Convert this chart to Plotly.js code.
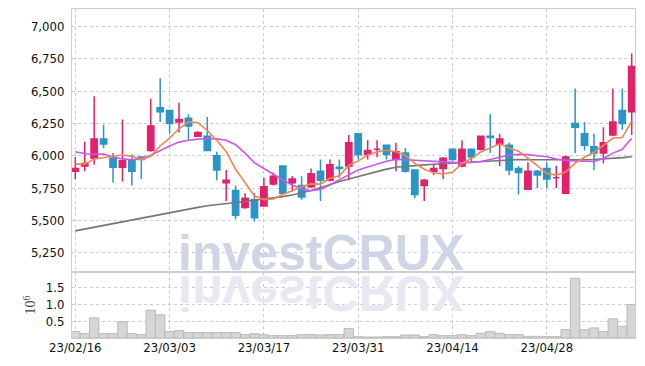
<!DOCTYPE html>
<html>
<head>
<meta charset="utf-8">
<script src="https://cdn.plot.ly/plotly-3.0.1.min.js"></script>
<style>
html,body{margin:0;padding:0;background:#fff;}
#chart{width:645px;height:366px;}
</style>
</head>
<body>
<div id="chart"></div>
<script>
// Trading days (Korean market), 2023-02-16 .. 2023-05-15
const dates = ["2023-02-16","2023-02-17","2023-02-20","2023-02-21","2023-02-22","2023-02-23","2023-02-24","2023-02-27","2023-02-28","2023-03-02",
"2023-03-03","2023-03-06","2023-03-07","2023-03-08","2023-03-09","2023-03-10","2023-03-13","2023-03-14","2023-03-15","2023-03-16",
"2023-03-17","2023-03-20","2023-03-21","2023-03-22","2023-03-23","2023-03-24","2023-03-27","2023-03-28","2023-03-29","2023-03-30",
"2023-03-31","2023-04-03","2023-04-04","2023-04-05","2023-04-06","2023-04-07","2023-04-10","2023-04-11","2023-04-12","2023-04-13",
"2023-04-14","2023-04-17","2023-04-18","2023-04-19","2023-04-20","2023-04-21","2023-04-24","2023-04-25","2023-04-26","2023-04-27",
"2023-04-28","2023-05-02","2023-05-03","2023-05-04","2023-05-08","2023-05-09","2023-05-10","2023-05-11","2023-05-12","2023-05-15"];

const opens  = [5880,5920,5980,6130,5980,5910,5960,5990,6040,6370,6350,6260,6290,6150,6150,6000,5790,5730,5600,5660,5610,5780,5920,5790,5770,5760,5880,5810,5910,5920,6170,6010,6050,6080,5970,6020,5890,5770,5880,5900,6050,5920,6050,6050,6150,6090,6080,5900,5740,5880,5900,5830,5710,6250,6170,6070,6020,6160,6350,6340];
const highs  = [5990,6110,6460,6240,6020,6280,6010,5990,6440,6600,6350,6410,6320,6190,6300,6030,5890,5770,5710,5710,5830,5870,5920,5840,5840,5900,5970,5970,5970,6160,6170,6120,6120,6080,6100,6060,5890,5820,5930,5990,6050,6120,6050,6150,6320,6170,6100,5920,5950,5890,5950,5920,6000,6520,6260,6170,6220,6520,6520,6790];
const lows   = [5820,5880,5930,6060,5790,5800,5770,5820,6030,6260,6170,6180,6120,6150,6040,5810,5650,5510,5590,5490,5610,5770,5710,5720,5660,5750,5650,5800,5830,5810,5970,5970,5990,5970,5880,5870,5670,5650,5850,5820,5960,5910,5950,6040,6020,5920,5850,5700,5740,5750,5750,5750,5710,6020,6040,5890,5940,6150,6200,6160];
const closes = [5900,5940,6130,6090,5910,5960,5880,5970,6230,6340,6250,6280,6230,6180,6040,5890,5810,5540,5670,5520,5760,5840,5710,5820,5680,5860,5810,5930,5900,6100,6010,6040,6050,6010,6030,5880,5700,5810,5900,5980,5970,6050,5990,6150,6140,6130,5890,5870,5880,5850,5820,5830,5990,6220,6080,6020,6100,6260,6250,6690];

// moving averages
const ma5  = [5935,5935,5975,5985,5995,6005,5995,5970,5995,6075,6135,6210,6262,6255,6195,6120,6030,5895,5790,5690,5660,5665,5700,5730,5760,5782,5780,5825,5845,5925,5960,6005,6028,6042,6030,6003,5940,5895,5868,5858,5872,5940,5978,6028,6060,6092,6060,6035,5982,5925,5863,5850,5874,5942,5988,6027,6082,6135,6140,6268];
const ma20 = [6031,6015,6011,6013,5990,5975,5968,5977,6003,6042,6075,6105,6120,6128,6133,6130,6120,6085,6020,5945,5900,5858,5812,5773,5742,5730,5738,5775,5815,5855,5890,5912,5935,5957,5972,5968,5965,5960,5957,5952,5948,5944,5948,5955,5970,5990,6005,6010,6008,6000,5992,5975,5963,5960,5958,5955,5978,6020,6050,6135];
const ma60 = [5418,5432,5447,5462,5476,5490,5505,5519,5534,5549,5562,5575,5588,5600,5612,5622,5630,5638,5646,5654,5662,5672,5683,5696,5712,5730,5752,5778,5800,5820,5840,5860,5878,5896,5910,5918,5924,5929,5934,5938,5942,5946,5950,5954,5960,5965,5970,5970,5969,5968,5967,5967,5966,5967,5968,5970,5974,5979,5985,5992];

// volume in millions of shares
const volumes = [0.19,0.13,0.60,0.13,0.13,0.49,0.13,0.10,0.83,0.69,0.19,0.22,0.16,0.16,0.16,0.16,0.16,0.16,0.10,0.13,0.10,0.07,0.07,0.07,0.10,0.10,0.09,0.10,0.10,0.28,0.04,0.03,0.03,0.04,0.04,0.09,0.09,0.04,0.10,0.07,0.07,0.10,0.07,0.14,0.19,0.14,0.10,0.10,0.05,0.05,0.04,0.04,0.25,1.78,0.25,0.30,0.19,0.57,0.35,1.00];

const tickIdx    = [0,10,20,30,40,50];
const tickLabels = ["23/02/16","23/03/03","23/03/17","23/03/31","23/04/14","23/04/28"];
const priceTicks = [5250,5500,5750,6000,6250,6500,6750,7000];
const volTicks   = [0.5,1.0,1.5];
const volTickText = ["0.5","1.0","1.5"];
const watermark  = "investCRUX";

const RED = "#e3206c", BLUE = "#2a95c7";
const GRID = "#c6cadf", FRAME = "#cdcdcd";
const TICKFONT = {family:"DejaVu Sans Condensed", size:13, color:"#111"};

const traces = [
  {type:"bar", x:dates, y:volumes, xaxis:"x", yaxis:"y2",
   marker:{color:"#d6d6d6", line:{color:"#bababa", width:1}}, hoverinfo:"skip", showlegend:false},
  {type:"scatter", mode:"lines", x:dates, y:ma60, xaxis:"x", yaxis:"y",
   line:{color:"#767676", width:1.6}, hoverinfo:"skip", showlegend:false},
  {type:"scatter", mode:"lines", x:dates, y:ma20, xaxis:"x", yaxis:"y",
   line:{color:"#c957ea", width:1.6}, hoverinfo:"skip", showlegend:false},
  {type:"scatter", mode:"lines", x:dates, y:ma5, xaxis:"x", yaxis:"y",
   line:{color:"#ef8650", width:1.6}, hoverinfo:"skip", showlegend:false},
  {type:"candlestick", x:dates, open:opens, high:highs, low:lows, close:closes, xaxis:"x", yaxis:"y",
   increasing:{line:{color:RED, width:1.5}, fillcolor:RED},
   decreasing:{line:{color:BLUE, width:1.5}, fillcolor:BLUE},
   whiskerwidth:0, hoverinfo:"skip", showlegend:false}
];

const layout = {
  width:645, height:366,
  margin:{l:72, r:10, t:9, b:28},
  paper_bgcolor:"#fff", plot_bgcolor:"#fff",
  showlegend:false, bargap:0, boxgap:0.3, boxgroupgap:0.05,
  xaxis:{type:"category", anchor:"y2", range:[-0.35, dates.length-0.65],
    tickvals:tickIdx.map(i=>dates[i]), ticktext:tickLabels,
    showgrid:true, gridcolor:GRID, griddash:"dot", gridwidth:1,
    showline:true, linecolor:FRAME, linewidth:1, mirror:"all",
    ticks:"", tickfont:TICKFONT, ticklabelstandoff:-3, rangeslider:{visible:false}, fixedrange:true},
  yaxis:{domain:[0.2006,1], range:[5100,7135], tickvals:priceTicks, tickformat:",d",
    showgrid:true, gridcolor:GRID, griddash:"dot", gridwidth:1, zeroline:false,
    showline:true, linecolor:FRAME, linewidth:1, mirror:"all",
    ticks:"", tickfont:TICKFONT, ticklabelstandoff:4, fixedrange:true},
  yaxis2:{domain:[0,0.2006], range:[0,1.97], tickvals:volTicks, ticktext:volTickText,
    showgrid:true, gridcolor:GRID, griddash:"dot", gridwidth:1, zeroline:false,
    showline:true, linecolor:FRAME, linewidth:1, mirror:"all",
    ticks:"", tickfont:TICKFONT, ticklabelstandoff:4, fixedrange:true,
    title:{text:"10<sup>6</sup>", font:{family:"Liberation Serif, DejaVu Serif, serif", size:14, color:"#444"}, standoff:6}},
  annotations:[
    {text:"<b>"+watermark+"</b>", xref:"paper", yref:"paper", x:0.442, y:0.168, xanchor:"center", yanchor:"bottom",
     showarrow:false, font:{family:"Liberation Sans, Arial, sans-serif", size:50, color:"#d0d5e6"}},
    {text:"<b>"+watermark+"</b>", xref:"paper", yref:"paper", x:0.442, y:0.168, xanchor:"center", yanchor:"bottom",
     showarrow:false, font:{family:"Liberation Sans, Arial, sans-serif", size:50, color:"#e7e8f2"}}
  ]
};

Plotly.newPlot("chart", traces, layout, {staticPlot:true, displayModeBar:false}).then(function(gd){
  const anns = gd.querySelectorAll(".annotation-text");
  if (anns.length > 1) {
    const t = anns[1];
    t.style.transformBox = "fill-box";
    t.style.transformOrigin = "50% 48px";
    t.style.transform = "scaleY(-1)";
  }
});
</script>
</body>
</html>
